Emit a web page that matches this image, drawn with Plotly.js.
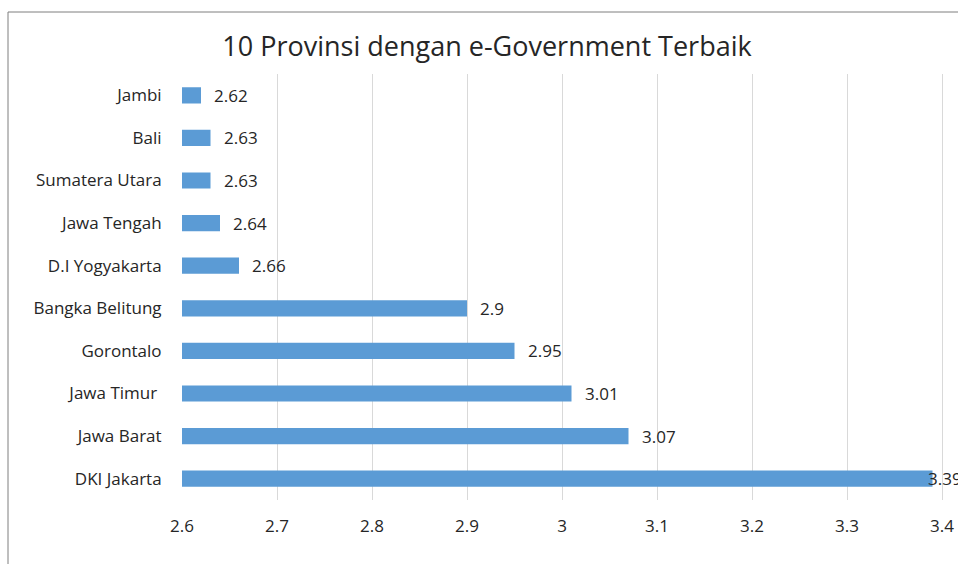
<!DOCTYPE html>
<html><head><meta charset="utf-8">
<script src="https://cdn.plot.ly/plotly-3.0.1.min.js"></script>
<style>html,body{margin:0;padding:0;background:#fff;}#chart{width:958px;height:564px;}</style>
</head><body><div id="chart"></div>
<script>
const provinces = ["DKI Jakarta","Jawa Barat","Jawa Timur\u00a0","Gorontalo","Bangka Belitung","D.I Yogyakarta","Jawa Tengah","Sumatera Utara","Bali","Jambi"];
const scores = [3.39,3.07,3.01,2.95,2.9,2.66,2.64,2.63,2.63,2.62];
const tickVals = [2.6,2.7,2.8,2.9,3.0,3.1,3.2,3.3,3.4];
const tickText = ["2.6","2.7","2.8","2.9","3","3.1","3.2","3.3","3.4"];

const FONT = "'Open Sans', 'Noto Sans', sans-serif";
const L = 182, T = 74, B = 64;
const plotW = 958 - L, plotH = 564 - T - B;
const pxPerUnit = 950; // 0.1 per 95px
const xMax = 2.6 + plotW / pxPerUnit;

const annotations = provinces.map((p, i) => ({
  x: scores[i], y: p, xref: 'x', yref: 'y',
  text: String(scores[i]), showarrow: false,
  xanchor: 'left', yanchor: 'middle',
  xshift: scores[i] > 3.3 ? -7 : 11, yshift: 0,
  font: {family: FONT, size: 17, color: '#262626'}
}));

const data = [{
  type: 'bar', orientation: 'h',
  x: scores, y: provinces, base: 0,
  marker: {color: '#5b9bd5', line: {width: 0}},
  hoverinfo: 'x+y'
}];

const layout = {
  width: 958, height: 564,
  margin: {l: L, r: 0, t: T, b: B, pad: 0},
  paper_bgcolor: '#fff', plot_bgcolor: '#fff',
  showlegend: false,
  bargap: 0.62,
  title: {text: '10 Provinsi dengan e-Government Terbaik', x: 487/958, xanchor: 'center', y: 1 - 47/564, yanchor: 'middle', font: {family: FONT, size: 27, color: '#262626'}},
  xaxis: {
    range: [2.6, xMax], tickvals: tickVals, ticktext: tickText,
    showgrid: true, gridcolor: '#d9d9d9', gridwidth: 1,
    zeroline: false, showline: false,
    ticks: 'outside', ticklen: 11, tickcolor: 'rgba(0,0,0,0)',
    tickfont: {family: FONT, size: 17, color: '#262626'},
    fixedrange: true
  },
  yaxis: {
    type: 'category', categoryorder: 'array', categoryarray: provinces,
    showgrid: false, zeroline: false, showline: false,
    ticks: 'outside', ticklen: 16, tickcolor: 'rgba(0,0,0,0)',
    tickfont: {family: FONT, size: 17, color: '#262626'},
    fixedrange: true
  },
  annotations: annotations,
  shapes: [
    {type: 'line', xref: 'paper', yref: 'paper',
     x0: (8 - L) / plotW, x1: (8 - L) / plotW, y0: (564 - B - 12) / plotH, y1: -0.5,
     line: {color: '#7f7f7f', width: 1}},
    {type: 'line', xref: 'paper', yref: 'paper',
     x0: (8 - L) / plotW, x1: 1.5, y0: (564 - B - 12) / plotH, y1: (564 - B - 12) / plotH,
     line: {color: '#7f7f7f', width: 1}}
  ]
};

Plotly.newPlot('chart', data, layout, {displayModeBar: false, staticPlot: true});
</script></body></html>
